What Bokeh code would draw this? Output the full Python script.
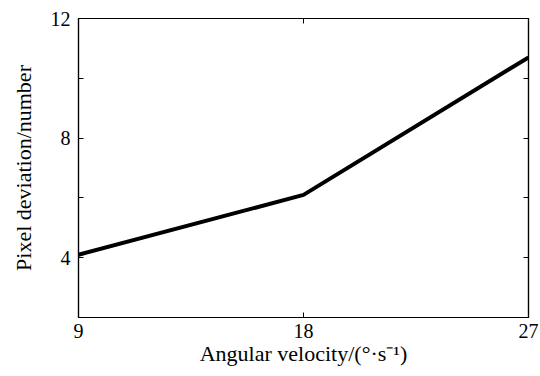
from bokeh.plotting import figure
from bokeh.models import Range1d, FixedTicker, LinearAxis
from bokeh.embed import file_html
from bokeh.resources import INLINE

angular_velocity = [9, 18, 27]
pixel_deviation = [4.1, 6.1, 10.7]
x_ticks = [9, 18, 27]
y_ticks = [4, 8, 12]
y_minor_ticks = [6, 10]

FONT = "Liberation Serif"

p = figure(width=540, height=376, output_backend="svg", toolbar_location=None,
           x_range=Range1d(9, 27), y_range=Range1d(2, 12),
           min_border_left=78, min_border_right=12, min_border_top=18, min_border_bottom=59)
p.xgrid.visible = False
p.ygrid.visible = False
p.outline_line_color = "black"
p.outline_line_width = 1.2
p.background_fill_color = "white"
p.border_fill_color = "white"

p.line(angular_velocity, pixel_deviation, line_color="black", line_width=4)

def style(ax):
    ax.axis_line_color = "black"
    ax.axis_line_width = 1.2
    ax.major_tick_in = 5
    ax.major_tick_out = 0
    ax.minor_tick_in = 5
    ax.minor_tick_out = 0
    ax.minor_tick_line_color = "black"
    ax.major_tick_line_color = "black"
    ax.major_label_text_font = FONT
    ax.major_label_text_font_size = "20px"
    ax.major_label_text_color = "black"
    ax.axis_label_text_font = FONT
    ax.axis_label_text_font_size = "22px"
    ax.axis_label_text_font_style = "normal"
    ax.axis_label_text_color = "black"

xa = p.xaxis[0]
xa.ticker = FixedTicker(ticks=x_ticks)
xa.axis_label = "Angular velocity/(°·s⁻¹)"
xa.axis_label_standoff = 0
xa.major_label_standoff = 6
style(xa)

ya = p.yaxis[0]
ya.ticker = FixedTicker(ticks=y_ticks, minor_ticks=y_minor_ticks)
ya.axis_label = "Pixel deviation/number"
ya.axis_label_standoff = 12
ya.major_label_standoff = 8
style(ya)

ra = LinearAxis(ticker=FixedTicker(ticks=[], minor_ticks=y_ticks + y_minor_ticks))
style(ra)
p.add_layout(ra, "right")
ta = LinearAxis(ticker=FixedTicker(ticks=[], minor_ticks=x_ticks))
style(ta)
p.add_layout(ta, "above")

open("out.html", "w").write(file_html(p, INLINE))
